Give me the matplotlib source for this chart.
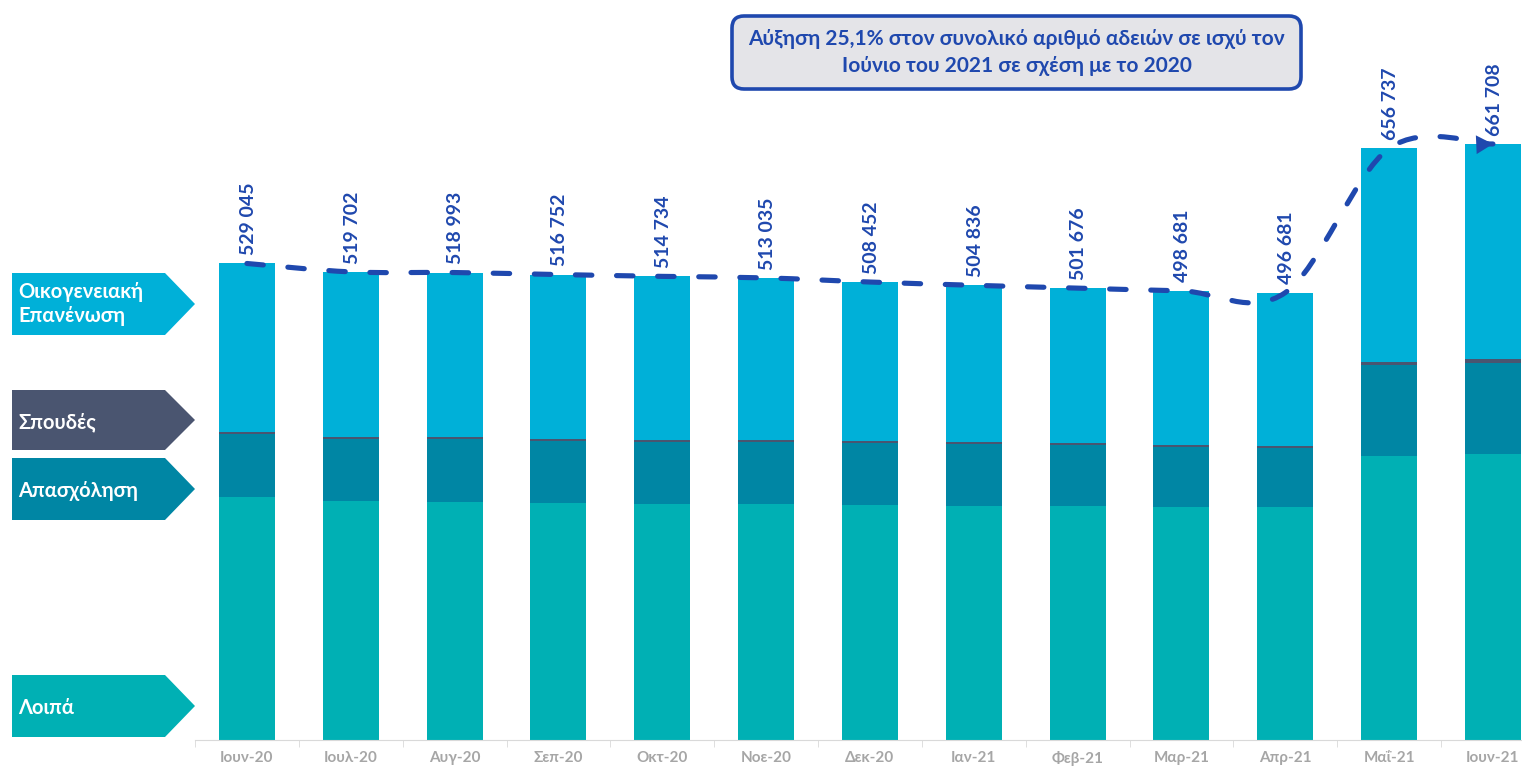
import numpy as np
import matplotlib
matplotlib.use("Agg")
import matplotlib.pyplot as plt
from matplotlib.path import Path
from matplotlib.patches import PathPatch, Polygon, FancyBboxPatch

plt.rcParams['font.family'] = ['Lato', 'Open Sans', 'DejaVu Sans']

# data
months = ['Ιουν-20', 'Ιουλ-20', 'Αυγ-20', 'Σεπ-20', 'Οκτ-20', 'Νοε-20', 'Δεκ-20',
          'Ιαν-21', 'Φεβ-21', 'Μαρ-21', 'Απρ-21', 'Μαΐ-21', 'Ιουν-21']
totals = [529045, 519702, 518993, 516752, 514734, 513035, 508452,
          504836, 501676, 498681, 496681, 656737, 661708]
loipa = [269400, 265300, 264200, 263100, 262000, 262000, 260900,
         259700, 259700, 258600, 258600, 315200, 317100]
apasxolisi = [69900, 69200, 69900, 68800, 68800, 68800, 68800,
              68800, 67400, 66600, 65500, 100700, 101300]
spoudes = [2200, 2200, 2200, 2200, 2200, 2200, 2200,
           2200, 2200, 2200, 2200, 3700, 4400]
oikogeneiaki = [187545, 183002, 182693, 182652, 181734, 180035, 176552,
                174136, 172376, 171281, 170381, 237137, 238908]

series_names = ['Λοιπά', 'Απασχόληση', 'Σπουδές', 'Οικογενειακή\nΕπανένωση']
note = 'Αύξηση 25,1% στον συνολικό αριθμό αδειών σε ισχύ τον\nΙούνιο του 2021 σε σχέση με το 2020'

c_loipa = '#00B0B4'
c_apas = '#0086A4'
c_spoud = '#4A5570'
c_oik = '#00B0D8'
c_blue = '#1F48AE'

W, H = 1522, 769
fig = plt.figure(figsize=(W / 100, H / 100), dpi=100)
ax = fig.add_axes([195 / W, 29 / H, 1 - 195 / W, 630.5 / H])

x = np.arange(len(months))
bw = 0.54
bottom = np.zeros(len(months))
for vals, col in [(loipa, c_loipa), (apasxolisi, c_apas), (spoudes, c_spoud), (oikogeneiaki, c_oik)]:
    ax.bar(x, vals, bw, bottom=bottom, color=col, linewidth=0)
    bottom += np.array(vals)

ax.set_xlim(-0.5, 12.28)
ax.set_ylim(0, 700000)
ax.set_yticks([])
for s in ['top', 'right', 'left']:
    ax.spines[s].set_visible(False)
ax.spines['bottom'].set_color('#D9D9D9')
ax.set_xticks(x)
ax.set_xticklabels(months, color='#A6A6A6', fontweight='bold', fontsize=11)
ax.tick_params(axis='x', which='major', length=0, pad=8)
ax.set_xticks(np.arange(-0.5, 12.5, 1), minor=True)
ax.tick_params(axis='x', which='minor', length=5, color='#D9D9D9')

# value labels
for xi, t in zip(x, totals):
    ax.annotate(f'{t:,}'.replace(',', ' '), (xi, t), xytext=(1, 6), textcoords='offset points',
                rotation=90, ha='center', va='bottom', color=c_blue, fontsize=14, fontweight='bold')

# smoothed dashed trend line (excel style bezier)
pts = np.column_stack([x, totals]).astype(float)
verts = [pts[0]]
codes = [Path.MOVETO]
n = len(pts)
for i in range(n - 1):
    p0 = pts[i - 1] if i > 0 else pts[i]
    p1 = pts[i]
    p2 = pts[i + 1]
    p3 = pts[i + 2] if i + 2 < n else pts[i + 1]
    verts += [p1 + (p2 - p0) / 6, p2 - (p3 - p1) / 6, p2]
    codes += [Path.CURVE4] * 3
trend = PathPatch(Path(verts, codes), fill=False, edgecolor=c_blue, lw=3.7,
                  linestyle=(0, (3.2, 4.8)), capstyle='round', clip_on=False, zorder=5)
ax.add_patch(trend)
tip = pts[-1]
back = tip - (pts[-1] - verts[-2]) * 0.6
ax.annotate('', xy=tip, xytext=back,
            arrowprops=dict(arrowstyle='-|>,head_length=0.8,head_width=0.45', color=c_blue,
                            lw=0, mutation_scale=15, shrinkA=0, shrinkB=0), zorder=6)

# legend arrows on the left
def px(xp, yp):
    return (xp / 100, (H - yp) / 100)

tags = [(series_names[3], c_oik, 273, 335), (series_names[2], c_spoud, 390, 450),
        (series_names[1], c_apas, 458, 520), (series_names[0], c_loipa, 675, 737)]
for label, col, y0, y1 in tags:
    ym = (y0 + y1) / 2
    poly = Polygon([px(12, y0), px(165, y0), px(195, ym), px(165, y1), px(12, y1)],
                   closed=True, facecolor=col, edgecolor='none', transform=fig.dpi_scale_trans)
    fig.add_artist(poly)
    if '\n' in label:
        fig.text(*px(18, ym), label, transform=fig.dpi_scale_trans, color='white',
                 fontsize=14.5, fontweight='bold', va='center', ha='left', linespacing=1.3)
    else:
        fig.text(*px(18, ym + 2), label, transform=fig.dpi_scale_trans, color='white',
                 fontsize=14.5, fontweight='bold', va='center', ha='left')

# note box
bx0, by0, bx1, by1 = 732, 16, 1301, 89
box = FancyBboxPatch(px(bx0, by1), (bx1 - bx0) / 100, (by1 - by0) / 100,
                     boxstyle='round,pad=0,rounding_size=0.12', facecolor='#E4E4E8',
                     edgecolor=c_blue, lw=2.6, transform=fig.dpi_scale_trans)
fig.add_artist(box)
fig.text(*px((bx0 + bx1) / 2, (by0 + by1) / 2), note, transform=fig.dpi_scale_trans,
         ha='center', va='center', color=c_blue, fontsize=15, fontweight='bold', linespacing=1.45)

fig.savefig('out.png', dpi=100)
